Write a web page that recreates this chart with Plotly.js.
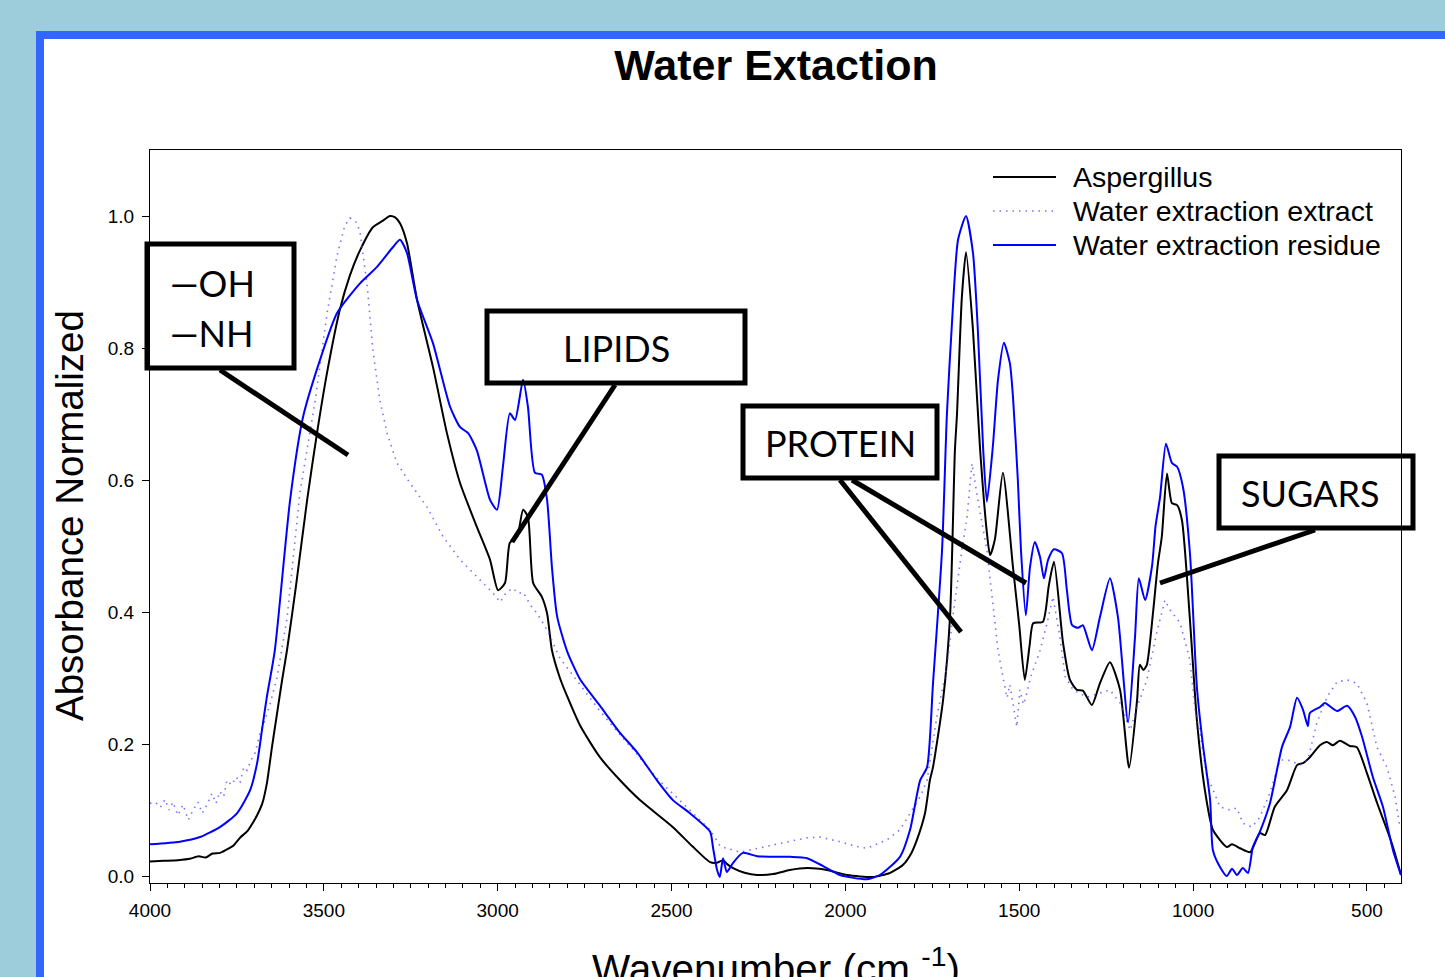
<!DOCTYPE html>
<html>
<head>
<meta charset="utf-8">
<script src="https://cdn.plot.ly/plotly-3.0.1.min.js"></script>
<style>
  html, body { margin: 0; padding: 0; width: 1445px; height: 977px; overflow: hidden; background: #9DCCDB; }
  #frame { position: absolute; left: 36px; top: 31px; width: 1445px; height: 1000px; border: 8px solid #3366FF; background: #ffffff; }
  #plot { position: absolute; left: 0; top: 0; width: 1445px; height: 977px; }
</style>
</head>
<body>
<div id="frame"></div>
<div id="plot"></div>
<script>
// ---------------- DATA ----------------
const seriesNames = ["Aspergillus", "Water extraction extract", "Water extraction residue"];

const aspWn = [4000, 3960, 3920, 3885, 3860, 3840, 3820, 3799, 3780, 3760, 3741, 3720, 3705, 3692, 3677, 3664, 3649, 3635, 3620, 3606, 3580, 3548, 3520, 3491, 3454, 3425, 3396, 3359, 3330, 3310, 3295, 3281, 3261, 3232, 3186, 3146, 3108, 3060, 3022, 2999, 2979, 2965, 2944, 2927, 2913, 2898, 2873, 2858, 2844, 2821, 2800, 2763, 2706, 2648, 2591, 2496, 2440, 2389, 2370, 2352, 2340, 2323, 2290, 2254, 2208, 2160, 2110, 2053, 1995, 1921, 1872, 1834, 1810, 1794, 1771, 1757, 1748, 1719, 1699, 1685, 1679, 1665, 1653, 1633, 1613, 1593, 1584, 1570, 1547, 1518, 1500, 1484, 1470, 1460, 1432, 1415, 1400, 1374, 1354, 1334, 1317, 1291, 1268, 1239, 1210, 1184, 1161, 1153, 1143, 1133, 1115, 1101, 1090, 1075, 1061, 1046, 1032, 1009, 989, 966, 943, 903, 888, 865, 836, 808, 793, 765, 730, 701, 684, 664, 635, 615, 598, 578, 549, 529, 500, 471, 442, 425, 402];
const aspVal = [0.022, 0.023, 0.024, 0.026, 0.030, 0.028, 0.034, 0.035, 0.040, 0.046, 0.058, 0.068, 0.080, 0.092, 0.110, 0.140, 0.196, 0.245, 0.297, 0.342, 0.440, 0.570, 0.670, 0.762, 0.858, 0.910, 0.948, 0.983, 0.993, 1.000, 0.998, 0.989, 0.959, 0.873, 0.771, 0.671, 0.595, 0.529, 0.479, 0.433, 0.444, 0.505, 0.514, 0.555, 0.544, 0.444, 0.423, 0.398, 0.342, 0.300, 0.272, 0.228, 0.180, 0.145, 0.115, 0.074, 0.045, 0.021, 0.020, 0.024, 0.018, 0.012, 0.005, 0.0015, 0.003, 0.009, 0.012, 0.009, 0.0015, -0.0015, 0.0045, 0.017, 0.035, 0.055, 0.095, 0.145, 0.165, 0.267, 0.393, 0.645, 0.700, 0.877, 0.945, 0.827, 0.650, 0.520, 0.486, 0.510, 0.611, 0.468, 0.380, 0.297, 0.350, 0.383, 0.385, 0.440, 0.476, 0.353, 0.297, 0.282, 0.281, 0.259, 0.292, 0.324, 0.282, 0.164, 0.267, 0.320, 0.312, 0.320, 0.400, 0.474, 0.514, 0.610, 0.565, 0.562, 0.539, 0.388, 0.236, 0.130, 0.070, 0.044, 0.048, 0.042, 0.036, 0.065, 0.062, 0.105, 0.130, 0.168, 0.171, 0.180, 0.198, 0.203, 0.198, 0.205, 0.197, 0.195, 0.156, 0.111, 0.070, 0.044, 0.0015];

const extWn = [4000, 3985, 3970, 3957, 3945, 3934, 3920, 3905, 3890, 3876, 3862, 3850, 3836, 3822, 3810, 3799, 3788, 3779, 3765, 3752, 3741, 3730, 3721, 3710, 3698, 3684, 3670, 3655, 3635, 3606, 3569, 3525, 3490, 3462, 3440, 3425, 3405, 3396, 3376, 3359, 3339, 3318, 3290, 3252, 3203, 3157, 3108, 3060, 3014, 2993, 2975, 2956, 2940, 2927, 2905, 2887, 2858, 2821, 2763, 2706, 2650, 2600, 2542, 2447, 2389, 2360, 2303, 2208, 2110, 2073, 2016, 1970, 1938, 1880, 1843, 1814, 1785, 1765, 1737, 1708, 1691, 1665, 1650, 1636, 1619, 1593, 1576, 1561, 1547, 1535, 1527, 1518, 1507, 1498, 1488, 1478, 1468, 1460, 1440, 1420, 1403, 1383, 1368, 1345, 1305, 1268, 1239, 1210, 1181, 1161, 1133, 1104, 1081, 1066, 1037, 1009, 994, 980, 960, 946, 923, 894, 874, 857, 831, 808, 779, 750, 720, 693, 670, 644, 615, 586, 557, 529, 500, 471, 442, 419, 405];
const extVal = [0.110, 0.112, 0.104, 0.116, 0.100, 0.112, 0.092, 0.108, 0.085, 0.100, 0.112, 0.095, 0.108, 0.125, 0.110, 0.128, 0.120, 0.145, 0.138, 0.150, 0.141, 0.165, 0.160, 0.175, 0.186, 0.216, 0.235, 0.260, 0.300, 0.390, 0.580, 0.720, 0.855, 0.940, 0.985, 0.997, 0.990, 0.975, 0.898, 0.797, 0.721, 0.671, 0.626, 0.595, 0.559, 0.514, 0.479, 0.453, 0.429, 0.415, 0.430, 0.436, 0.428, 0.430, 0.410, 0.398, 0.373, 0.330, 0.290, 0.250, 0.215, 0.185, 0.148, 0.100, 0.070, 0.045, 0.036, 0.047, 0.058, 0.059, 0.052, 0.045, 0.042, 0.055, 0.070, 0.095, 0.120, 0.145, 0.241, 0.317, 0.393, 0.494, 0.544, 0.625, 0.570, 0.494, 0.418, 0.342, 0.302, 0.270, 0.290, 0.260, 0.226, 0.282, 0.260, 0.277, 0.300, 0.312, 0.342, 0.383, 0.423, 0.362, 0.302, 0.282, 0.271, 0.277, 0.282, 0.262, 0.221, 0.256, 0.297, 0.370, 0.418, 0.403, 0.383, 0.327, 0.250, 0.216, 0.150, 0.135, 0.105, 0.100, 0.103, 0.080, 0.074, 0.089, 0.126, 0.176, 0.175, 0.168, 0.176, 0.232, 0.271, 0.294, 0.297, 0.292, 0.262, 0.195, 0.164, 0.120, 0.074];

const resWn = [4000, 3914, 3856, 3799, 3750, 3712, 3692, 3678, 3664, 3641, 3597, 3560, 3511, 3462, 3396, 3347, 3301, 3281, 3261, 3232, 3186, 3137, 3108, 3085, 3060, 3022, 3002, 2985, 2965, 2950, 2927, 2913, 2893, 2873, 2858, 2844, 2829, 2800, 2763, 2706, 2650, 2600, 2542, 2496, 2447, 2389, 2381, 2369, 2361, 2352, 2341, 2323, 2295, 2254, 2159, 2110, 2064, 2016, 1938, 1901, 1843, 1814, 1785, 1765, 1748, 1722, 1708, 1693, 1676, 1653, 1633, 1619, 1604, 1593, 1576, 1561, 1544, 1527, 1518, 1504, 1495, 1481, 1469, 1455, 1440, 1429, 1417, 1400, 1377, 1363, 1348, 1331, 1317, 1291, 1268, 1239, 1216, 1187, 1167, 1156, 1138, 1118, 1108, 1095, 1078, 1061, 1046, 1029, 1009, 989, 972, 951, 943, 923, 903, 888, 874, 857, 842, 828, 808, 779, 744, 721, 701, 684, 670, 664, 635, 621, 586, 557, 534, 514, 483, 454, 425, 402];
const resVal = [0.048, 0.052, 0.059, 0.074, 0.095, 0.130, 0.171, 0.221, 0.271, 0.342, 0.570, 0.695, 0.782, 0.853, 0.898, 0.923, 0.953, 0.964, 0.944, 0.873, 0.807, 0.711, 0.680, 0.671, 0.645, 0.570, 0.555, 0.620, 0.701, 0.691, 0.752, 0.711, 0.611, 0.608, 0.570, 0.468, 0.393, 0.340, 0.298, 0.258, 0.218, 0.188, 0.145, 0.115, 0.095, 0.067, 0.044, 0.009, -0.0015, 0.027, 0.006, 0.020, 0.035, 0.030, 0.029, 0.027, 0.015, 0.0015, -0.005, 0.0015, 0.029, 0.070, 0.145, 0.165, 0.292, 0.494, 0.700, 0.842, 0.964, 1.000, 0.944, 0.827, 0.650, 0.567, 0.650, 0.752, 0.808, 0.777, 0.726, 0.600, 0.494, 0.395, 0.468, 0.506, 0.483, 0.451, 0.479, 0.495, 0.489, 0.433, 0.380, 0.376, 0.380, 0.342, 0.392, 0.451, 0.392, 0.233, 0.362, 0.451, 0.418, 0.470, 0.530, 0.574, 0.655, 0.626, 0.620, 0.589, 0.489, 0.286, 0.200, 0.115, 0.039, 0.014, 0.000, 0.011, 0.0015, 0.012, 0.0045, 0.044, 0.067, 0.110, 0.196, 0.226, 0.270, 0.252, 0.227, 0.247, 0.256, 0.262, 0.250, 0.258, 0.241, 0.211, 0.150, 0.105, 0.039, 0.0015];

const yTickVals = [0, 0.2, 0.4, 0.6, 0.8, 1.0];
const yTickText = ["0.0", "0.2", "0.4", "0.6", "0.8", "1.0"];
const xTickVals = [4000, 3500, 3000, 2500, 2000, 1500, 1000, 500];
const xTickText = ["4000", "3500", "3000", "2500", "2000", "1500", "1000", "500"];

const calloutLabels = ["\u2014OH", "\u2014NH", "LIPIDS", "PROTEIN", "SUGARS"];

// ---------------- LAYOUT HELPERS ----------------
const W = 1445, H = 977;
const M = {l: 150, r: 44, t: 150, b: 94};
const PW = W - M.l - M.r, PH = H - M.t - M.b;
const px = v => (v - M.l) / PW;     // pixel x -> paper x
const py = v => (H - M.b - v) / PH; // pixel y -> paper y

const FONT = "Liberation Sans, Arial, sans-serif";
const CFONT = "Lato, Carlito, 'Open Sans', sans-serif";
const DOTC = "rgba(80,80,255,0.8)";
const DOTDASH = "1.5px,5px";

const traces = [
  {x: aspWn, y: aspVal, name: seriesNames[0], type: "scatter", mode: "lines",
   line: {color: "#000000", width: 2, shape: "spline", smoothing: 0.6}},
  {x: extWn, y: extVal, name: seriesNames[1], type: "scatter", mode: "lines",
   line: {color: DOTC, width: 1.6, dash: DOTDASH}},
  {x: resWn, y: resVal, name: seriesNames[2], type: "scatter", mode: "lines",
   line: {color: "#0000FF", width: 2, shape: "spline", smoothing: 0.6}}
];

function rect(x0, y0, x1, y1) {
  return {type: "rect", xref: "paper", yref: "paper", x0: px(x0), x1: px(x1), y0: py(y0), y1: py(y1),
          line: {color: "#000", width: 5}, fillcolor: "rgba(0,0,0,0)", layer: "above"};
}
function seg(x0, y0, x1, y1, w, color, dash) {
  return {type: "line", xref: "paper", yref: "paper", x0: px(x0), x1: px(x1), y0: py(y0), y1: py(y1),
          line: {color: color || "#000", width: w, dash: dash || "solid"}, layer: "above"};
}
function label(text, x, y, size, anchor, font) {
  return {text: text, xref: "paper", yref: "paper", x: px(x), y: py(y), xanchor: anchor || "center", yanchor: "middle",
          showarrow: false, font: {family: font || CFONT, size: size, color: "#000"}};
}

const legendRows = [177, 211, 245];
const legendStyles = [["#000000", "solid", 2], [DOTC, DOTDASH, 1.6], ["#0000FF", "solid", 2]];

const shapes = [
  rect(147, 244, 294, 368),
  seg(220, 370, 348, 455, 5),
  rect(487, 311, 745, 383),
  seg(615, 385, 512, 542, 5),
  rect(743, 406, 937, 478),
  seg(840, 480, 961, 632, 5),
  seg(852, 480, 1026, 583, 5),
  rect(1219, 456, 1413, 528),
  seg(1315, 530, 1160, 583, 5)
];
legendRows.forEach((yy, i) => shapes.push(seg(993, yy, 1056, yy, legendStyles[i][2], legendStyles[i][0], legendStyles[i][1])));

const annotations = [
  label(calloutLabels[0], 168, 283, 36, "left"),
  label(calloutLabels[1], 168, 333, 36, "left"),
  label(calloutLabels[2], 616, 348, 36),
  label(calloutLabels[3], 840, 443, 36),
  label(calloutLabels[4], 1310, 493, 36),
  {text: "Absorbance Normalized", xref: "paper", yref: "paper", x: px(69), y: py(516), textangle: -90,
   xanchor: "center", yanchor: "middle", showarrow: false, font: {family: FONT, size: 38.5, color: "#000"}},
  {text: "Wavenumber (cm <sup>-1</sup>)", xref: "paper", yref: "paper", x: px(776), y: py(938),
   xanchor: "center", yanchor: "top", showarrow: false, font: {family: FONT, size: 40.5, color: "#000"}}
];
seriesNames.forEach((n, i) => annotations.push(label(n, 1071, legendRows[i], 28.5, "left", FONT)));

const layout = {
  width: W, height: H,
  margin: M,
  paper_bgcolor: "rgba(0,0,0,0)",
  plot_bgcolor: "rgba(0,0,0,0)",
  showlegend: false,
  title: {text: "<b>Water Extaction</b>", x: 776 / W, xanchor: "center", xref: "container",
          y: 1 - 65 / H, yref: "container", yanchor: "middle",
          font: {family: FONT, size: 43, color: "#000"}},
  xaxis: {range: [4000, 402], tickvals: xTickVals, ticktext: xTickText, ticks: "outside", ticklen: 7,
          tickcolor: "#000", tickwidth: 1, showline: true, linecolor: "#000", linewidth: 1, mirror: true,
          showgrid: false, zeroline: false, ticklabelstandoff: 3, tickfont: {family: FONT, size: 19, color: "#000"},
          minor: {dtick: 50, tick0: 0, ticks: "outside", ticklen: 4, tickcolor: "#000", tickwidth: 1, showgrid: false}},
  yaxis: {range: [-0.0106, 1.1], tickvals: yTickVals, ticktext: yTickText, ticks: "outside", ticklen: 7,
          tickcolor: "#000", tickwidth: 1, showline: true, linecolor: "#000", linewidth: 1, mirror: true,
          showgrid: false, zeroline: false, ticklabelstandoff: 4, tickfont: {family: FONT, size: 19, color: "#000"}},
  shapes: shapes,
  annotations: annotations
};

Plotly.newPlot("plot", traces, layout, {displayModeBar: false, staticPlot: true});
</script>
</body>
</html>
